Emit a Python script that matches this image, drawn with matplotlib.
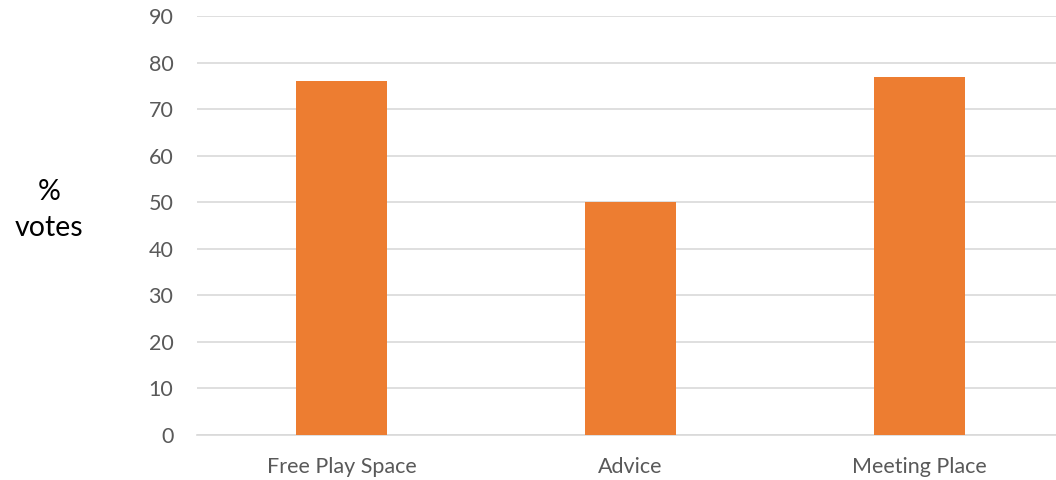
import matplotlib
matplotlib.use("Agg")
import matplotlib.pyplot as plt

categories = ["Free Play Space", "Advice", "Meeting Place"]
votes = [76, 50, 77]
yticks = list(range(0, 100, 10))

plt.rcParams['font.family'] = ['Lato', 'DejaVu Sans']

fig = plt.figure(figsize=(10.56, 4.8), dpi=100)
# plot area runs a little past the right edge in the original
ax = fig.add_axes([197/1056, 1 - 435/480, 867/1056, 419/480])

x = range(len(categories))
ax.bar(x, votes, width=0.315, color="#ED7D31", zorder=3)

ax.set_xlim(-0.5, 2.5)
ax.set_ylim(0, 90)
ax.set_yticks(yticks)
ax.set_xticks(list(x))
ax.set_xticklabels(categories)
ax.grid(axis="y", color="#D9D9D9", linewidth=1.2, zorder=0)
ax.set_axisbelow(True)

for s in ["top", "right", "left"]:
    ax.spines[s].set_visible(False)
ax.spines["bottom"].set_color("#D9D9D9")
ax.spines["bottom"].set_linewidth(1.2)

ax.tick_params(axis="both", length=0, colors="#595959", labelsize=15.5)
ax.tick_params(axis="y", pad=17)
ax.tick_params(axis="x", pad=16)

fig.text(49/1056, 1 - 210/480, "%\nvotes", ha="center", va="center",
         fontsize=20.5, color="black", linespacing=1.5)

fig.savefig("out.png", dpi=100)
